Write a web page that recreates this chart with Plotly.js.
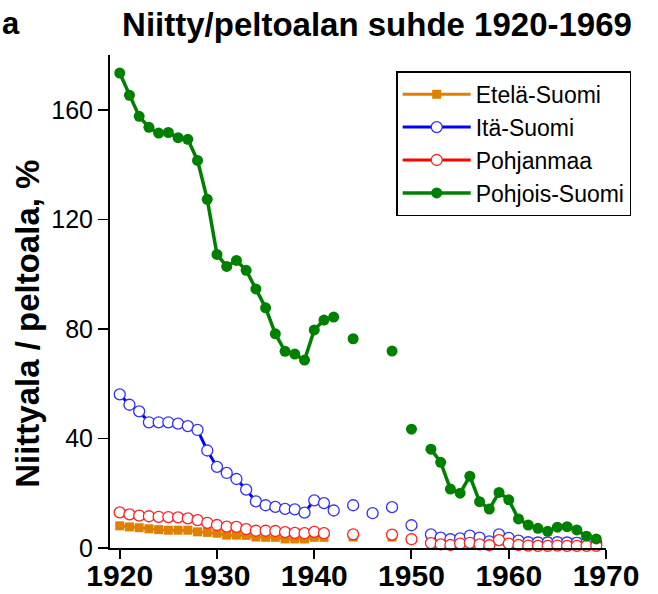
<!DOCTYPE html>
<html>
<head>
<meta charset="utf-8">
<script src="https://cdn.plot.ly/plotly-3.0.1.min.js"></script>
<style>html,body{margin:0;padding:0;background:#fff;}#chart{width:658px;height:594px;}</style>
</head>
<body>
<div id="chart"></div>
<script>
const years = [];
for (let y = 1920; y <= 1969; y++) years.push(y);

const etelaSuomi = [8.1, 7.7, 7.4, 7.0, 6.7, 6.5, 6.5, 6.5, 5.9, 5.7,
  5.4, 4.7, 4.7, 4.6, 4.0, 3.9, 3.9, 3.3, 3.3, 3.3,
  3.9, 3.9, null, null, 4.0, null, null, null, 4.0, null,
  3.2, null, 2.8, 2.6, 2.5, 2.5, 2.6, 2.5, 2.4, 2.6,
  2.4, 2.3, 2.3, 2.3, 2.3, 2.3, 2.3, 2.3, 2.2, 2.0];

const itaSuomi = [56.1, 52.3, 49.9, 45.9, 45.9, 45.9, 45.4, 44.5, 43.1, 35.6,
  29.6, 27.4, 25.2, 21.3, 17.0, 15.6, 15.0, 14.3, 14.1, 12.9,
  17.4, 16.4, 13.7, null, 15.6, null, 12.7, null, 14.9, null,
  8.3, null, 5.0, 3.8, 3.2, 3.5, 4.5, 3.8, 2.4, 5.0,
  3.7, 2.7, 2.1, 2.0, 2.0, 2.1, 2.0, 1.9, 1.9, 1.8];

const pohjanmaa = [13.0, 12.3, 11.8, 11.6, 11.4, 11.3, 11.2, 10.8, 10.2, 9.2,
  8.4, 7.8, 7.7, 6.9, 6.3, 6.3, 6.2, 5.8, 5.5, 5.4,
  5.9, 5.4, null, null, 5.0, null, null, null, 4.9, null,
  3.2, null, 1.8, 1.3, 1.1, 1.6, 1.9, 1.3, 1.0, 2.9,
  1.6, 1.1, 0.9, 0.8, 0.8, 0.9, 0.8, 0.8, 0.8, 0.8];

const pohjoisSuomi = [173.4, 165.3, 157.6, 153.6, 151.5, 151.7, 149.8, 149.2, 141.5, 127.3,
  107.2, 102.8, 105.0, 101.4, 94.6, 87.7, 78.2, 71.8, 70.8, 68.6,
  79.6, 83.2, 84.3, null, 76.4, null, null, null, 71.9, null,
  43.4, null, 36.1, 31.3, 21.5, 20.0, 26.2, 16.9, 14.2, 20.3,
  17.6, 10.6, 8.4, 7.2, 6.1, 7.6, 7.8, 6.6, 4.3, 3.3];

const seriesNames = ['Etelä-Suomi', 'Itä-Suomi', 'Pohjanmaa', 'Pohjois-Suomi'];
const xTicks = [1920, 1930, 1940, 1950, 1960, 1970];
const yTicks = [0, 40, 80, 120, 160];

const traces = [
  {x: years, y: etelaSuomi, name: seriesNames[0], mode: 'lines+markers', cliponaxis: false,
   line: {color: '#E08000', width: 3},
   marker: {symbol: 'square', size: 9, color: '#E08000'}},
  {x: years, y: itaSuomi, name: seriesNames[1], mode: 'lines+markers', cliponaxis: false,
   line: {color: '#0000FF', width: 3},
   marker: {symbol: 'circle', size: 11, color: '#FFFFFF', line: {color: '#3030FF', width: 1.3}}},
  {x: years, y: pohjanmaa, name: seriesNames[2], mode: 'lines+markers', cliponaxis: false,
   line: {color: '#FF0000', width: 3},
   marker: {symbol: 'circle', size: 11, color: '#FFFFFF', line: {color: '#FF2020', width: 1.3}}},
  {x: years, y: pohjoisSuomi, name: seriesNames[3], mode: 'lines+markers', cliponaxis: false,
   line: {color: '#008000', width: 3.5},
   marker: {symbol: 'circle', size: 11, color: '#008000'}}
];

const layout = {
  width: 658, height: 594,
  margin: {l: 110, r: 52, t: 55, b: 45.5, pad: 0},
  paper_bgcolor: '#fff', plot_bgcolor: '#fff',
  font: {family: 'Arial, "Liberation Sans", sans-serif', color: '#000'},
  showlegend: true,
  legend: {
    x: 0.577, y: 0.967, xanchor: 'left', yanchor: 'top',
    bordercolor: '#000', borderwidth: 1.5, bgcolor: '#fff',
    font: {size: 23, color: '#000'}, itemwidth: 68,
    tracegroupgap: 0
  },
  xaxis: {
    range: [1919, 1970], tickvals: xTicks, ticktext: xTicks.map(String),
    showgrid: false, zeroline: false, showline: true, linecolor: '#000', linewidth: 2,
    ticks: 'outside', ticklen: 9, tickwidth: 2, tickcolor: '#000',
    ticklabelstandoff: -9,
    tickfont: {size: 30, family: 'Arial, "Liberation Sans", sans-serif', weight: 'bold', color: '#000'}
  },
  yaxis: {
    range: [0, 180], tickvals: yTicks, ticktext: yTicks.map(String),
    showgrid: false, zeroline: false, showline: true, linecolor: '#000', linewidth: 2,
    ticks: 'outside', ticklen: 10, tickwidth: 1.5, tickcolor: '#000',
    tickfont: {size: 25, color: '#000'}
  },
  title: {
    text: '<b>Niitty/peltoalan suhde 1920-1969</b>',
    x: 377 / 658, xanchor: 'center', y: 0.958, yanchor: 'middle',
    font: {size: 33, color: '#000'}
  },
  annotations: [
    {text: '<b>a</b>', xref: 'paper', yref: 'paper', x: -0.222, y: 1.063,
     xanchor: 'left', yanchor: 'middle', showarrow: false, font: {size: 31, color: '#000'}},
    {text: '<b>Niittyala / peltoala, %</b>', xref: 'paper', yref: 'paper',
     x: -0.165, y: 0.455, xanchor: 'center', yanchor: 'middle', textangle: -90,
     showarrow: false, font: {size: 33, color: '#000'}}
  ]
};

Plotly.newPlot('chart', traces, layout, {displayModeBar: false, staticPlot: true});
</script>
</body>
</html>
